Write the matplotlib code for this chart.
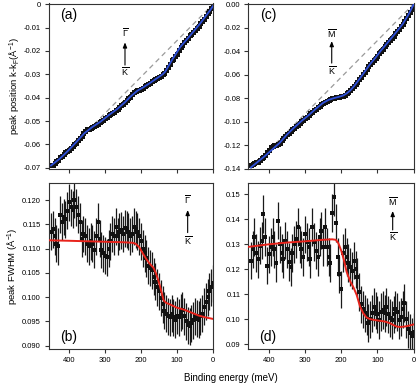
import matplotlib
matplotlib.use("Agg")
import matplotlib.pyplot as plt
from matplotlib.ticker import FuncFormatter, MultipleLocator
import numpy as np

plt.rcParams.update({
    "font.family": "Liberation Sans",
    "font.size": 6,
    "axes.unicode_minus": False,
    "mathtext.fontset": "custom",
    "mathtext.rm": "Liberation Sans",
    "mathtext.it": "Liberation Sans:italic",
    "mathtext.bf": "Liberation Sans:bold",
    "axes.linewidth": 0.8,
    "axes.edgecolor": "#333333",
})

# ---------------------------------------------------------------
# DATOS
# ---------------------------------------------------------------

# energia de enlace de cada punto (meV)
ENERGIA = np.arange(450, -1, -5)

# (a) posicion del pico, G-K
POS_A = [
    -0.0690, -0.0688, -0.0680, -0.0670, -0.0668, -0.0655, -0.0650, -0.0640, -0.0633, -0.0630,
    -0.0622, -0.0615, -0.0608, -0.0598, -0.0592, -0.0580, -0.0573, -0.0562, -0.0552, -0.0543,
    -0.0535, -0.0533, -0.0530, -0.0527, -0.0520, -0.0515, -0.0512, -0.0505, -0.0499, -0.0494,
    -0.0488, -0.0482, -0.0475, -0.0470, -0.0466, -0.0460, -0.0452, -0.0447, -0.0440, -0.0432,
    -0.0425, -0.0420, -0.0411, -0.0403, -0.0395, -0.0385, -0.0377, -0.0371, -0.0368, -0.0366,
    -0.0362, -0.0358, -0.0352, -0.0345, -0.0340, -0.0337, -0.0330, -0.0325, -0.0320, -0.0316,
    -0.0312, -0.0306, -0.0300, -0.0293, -0.0283, -0.0268, -0.0255, -0.0240, -0.0233, -0.0222,
    -0.0211, -0.0198, -0.0182, -0.0175, -0.0163, -0.0155, -0.0145, -0.0133, -0.0128, -0.0120,
    -0.0110, -0.0100, -0.0093, -0.0082, -0.0072, -0.0062, -0.0050, -0.0038, -0.0030, -0.0016,
    -0.0006,
]
ERR_A = 0.0009
AJUSTE_A_E = [450, 425, 404, 380, 358, 335, 312, 290, 266, 245, 229, 210, 193, 175,
              156, 140, 133, 114, 91, 63, 36, 8, 0]
AJUSTE_A = [-0.0690, -0.0660, -0.0629, -0.0590, -0.0553, -0.0525, -0.0502, -0.0475,
            -0.0448, -0.0420, -0.0395, -0.0370, -0.0355, -0.0337, -0.0317, -0.0300,
            -0.0289, -0.0239, -0.0183, -0.0133, -0.0083, -0.0026, -0.0008]
DIAG_A_E = [450, 0]
DIAG_A = [-0.0700, 0.0]

# (c) posicion del pico, M-K
POS_C = [
    -0.1370, -0.1362, -0.1355, -0.1345, -0.1340, -0.1325, -0.1312, -0.1300, -0.1285, -0.1262,
    -0.1240, -0.1215, -0.1205, -0.1200, -0.1200, -0.1190, -0.1178, -0.1160, -0.1140, -0.1125,
    -0.1108, -0.1095, -0.1080, -0.1065, -0.1052, -0.1040, -0.1025, -0.1010, -0.0995, -0.0983,
    -0.0972, -0.0960, -0.0945, -0.0930, -0.0918, -0.0905, -0.0890, -0.0877, -0.0865, -0.0852,
    -0.0842, -0.0833, -0.0825, -0.0818, -0.0810, -0.0803, -0.0798, -0.0793, -0.0790, -0.0788,
    -0.0785, -0.0780, -0.0772, -0.0760, -0.0748, -0.0733, -0.0718, -0.0700, -0.0680, -0.0660,
    -0.0638, -0.0620, -0.0598, -0.0575, -0.0552, -0.0530, -0.0510, -0.0492, -0.0472, -0.0455,
    -0.0440, -0.0412, -0.0395, -0.0378, -0.0360, -0.0340, -0.0322, -0.0302, -0.0285, -0.0268,
    -0.0248, -0.0228, -0.0210, -0.0190, -0.0170, -0.0145, -0.0120, -0.0095, -0.0068, -0.0040,
    -0.0010,
]
ERR_C = 0.0018
AJUSTE_C_E = [450, 430, 410, 390, 370, 350, 330, 310, 290, 270, 250, 235, 220, 205, 195,
              185, 175, 165, 155, 145, 135, 120, 105, 90, 75, 60, 45, 30, 15, 0]
AJUSTE_C = [-0.1390, -0.1340, -0.1290, -0.1235, -0.1180, -0.1110, -0.1050, -0.0995,
            -0.0945, -0.0890, -0.0840, -0.0815, -0.0800, -0.0788, -0.0778, -0.0760,
            -0.0735, -0.0700, -0.0660, -0.0618, -0.0575, -0.0510, -0.0455, -0.0395,
            -0.0340, -0.0285, -0.0228, -0.0170, -0.0095, -0.0005]
DIAG_C_E = [450, 0]
DIAG_C = [-0.1400, 0.0]

# (b) anchura FWHM, G-K
FWHM_B = [
    0.1135, 0.1140, 0.1125, 0.1110, 0.1105, 0.1170, 0.1155, 0.1165, 0.1160, 0.1178,
    0.1195, 0.1185, 0.1180, 0.1200, 0.1185, 0.1170, 0.1155, 0.1120, 0.1130, 0.1125,
    0.1110, 0.1105, 0.1115, 0.1110, 0.1098, 0.1125, 0.1155, 0.1120, 0.1097, 0.1090,
    0.1085, 0.1082, 0.1100, 0.1115, 0.1130, 0.1125, 0.1145, 0.1125, 0.1135, 0.1138,
    0.1130, 0.1142, 0.1140, 0.1135, 0.1125, 0.1130, 0.1145, 0.1140, 0.1135, 0.1125,
    0.1115, 0.1100, 0.1090, 0.1080, 0.1065, 0.1060, 0.1055, 0.1042, 0.1032, 0.1020,
    0.1012, 0.0998, 0.0985, 0.0972, 0.0966, 0.0960, 0.0958, 0.0966, 0.0958, 0.0953,
    0.0962, 0.0958, 0.0968, 0.0973, 0.0960, 0.0950, 0.0942, 0.0940, 0.0946, 0.0952,
    0.0960, 0.0955, 0.0953, 0.0960, 0.0966, 0.0980, 0.0990, 0.1000, 0.1012, 0.1020,
    0.1028,
]
ERR_B = 0.0038
AJUSTE_B_E = [455, 400, 350, 300, 250, 225, 215, 205, 195, 185, 175, 165, 158, 150,
              143, 137, 130, 120, 100, 80, 60, 40, 20, 0]
AJUSTE_B = [0.1117, 0.1116, 0.1115, 0.1114, 0.1113, 0.1112, 0.1110, 0.1103, 0.1090,
            0.1078, 0.1068, 0.1060, 0.1048, 0.1030, 0.1010, 0.0993, 0.0988, 0.0985,
            0.0978, 0.0974, 0.0968, 0.0962, 0.0958, 0.0955]

# (d) anchura FWHM, M-K
FWHM_D = [
    0.1235, 0.1280, 0.1330, 0.1265, 0.1240, 0.1295, 0.1315, 0.1420, 0.1330, 0.1215,
    0.1260, 0.1290, 0.1330, 0.1280, 0.1225, 0.1395, 0.1300, 0.1265, 0.1240, 0.1315,
    0.1280, 0.1230, 0.1210, 0.1265, 0.1300, 0.1320, 0.1370, 0.1300, 0.1280, 0.1250,
    0.1340, 0.1310, 0.1290, 0.1240, 0.1370, 0.1310, 0.1275, 0.1250, 0.1330, 0.1355,
    0.1290, 0.1370, 0.1290, 0.1250, 0.1225, 0.1425, 0.1490, 0.1385, 0.1250, 0.1180,
    0.1120, 0.1265, 0.1290, 0.1250, 0.1225, 0.1210, 0.1195, 0.1235, 0.1200, 0.1170,
    0.1110, 0.1060, 0.1040, 0.1024, 0.1011, 0.0985, 0.1000, 0.1024, 0.1050, 0.1035,
    0.1020, 0.0998, 0.1030, 0.1037, 0.1024, 0.1050, 0.1020, 0.1005, 0.0997, 0.1020,
    0.1040, 0.1030, 0.0998, 0.1010, 0.1040, 0.1065, 0.1000, 0.0960, 0.0945, 0.0932,
    0.0950,
]
ERR_D = 0.0075
AJUSTE_D_E = [455, 400, 350, 300, 250, 225, 215, 208, 200, 193, 185, 175, 166, 157,
              148, 139, 130, 120, 100, 80, 65, 55, 45, 35, 23, 10, 0]
AJUSTE_D = [0.1290, 0.1300, 0.1307, 0.1312, 0.1318, 0.1320, 0.1318, 0.1305, 0.1275,
            0.1240, 0.1190, 0.1152, 0.1128, 0.1097, 0.1052, 0.1025, 0.1008, 0.1001,
            0.0996, 0.0992, 0.0985, 0.0977, 0.0971, 0.0970, 0.0972, 0.0976, 0.0980]

# ---------------------------------------------------------------
# FIGURA
# ---------------------------------------------------------------

W, H = 416, 388
fig = plt.figure(figsize=(W / 100, H / 100), dpi=100)


def caja(x0, y0, x1, y1):
    # rectangulo en pixeles -> fraccion de figura
    return [x0 / W, 1 - y1 / H, (x1 - x0) / W, (y1 - y0) / H]


ax_a = fig.add_axes(caja(48.5, 3.5, 213, 169))
ax_c = fig.add_axes(caja(248.3, 3.5, 413.5, 169))
ax_b = fig.add_axes(caja(48.5, 182.7, 213, 349))
ax_d = fig.add_axes(caja(248.3, 182.7, 413.5, 349))

AZUL = "#2E4FD8"
ROJO = "#E8231B"


def puntos(ax, y, err, ms, cap_color, elw, cap):
    _, caps, _ = ax.errorbar(ENERGIA, y, yerr=err, fmt="s", ms=ms, color="#111111",
                             ecolor="#1A1A1A", elinewidth=elw, capsize=cap,
                             capthick=0.7, mew=0, zorder=2)
    for c in caps:
        c.set_color(cap_color)


def estilo(ax, etiquetas_x):
    ax.set_xlim(457, 0)
    ax.xaxis.set_major_locator(MultipleLocator(100))
    ax.tick_params(direction="out", length=3, width=0.8, labelsize=5.5,
                   color="#333333", pad=2.5)
    if not etiquetas_x:
        ax.tick_params(axis="x", labelbottom=False)


def flecha(ax, x, y_top, y_tip, y_tail, y_bot, arriba):
    ax.text(x, y_top, arriba, transform=ax.transAxes, ha="center", va="center",
            fontsize=6.5)
    ax.annotate("", xy=(x, y_tip), xytext=(x, y_tail), xycoords="axes fraction",
                arrowprops=dict(arrowstyle="-|>,head_length=0.5,head_width=0.2",
                                color="k", lw=0.8, shrinkA=0, shrinkB=0))
    ax.text(x, y_bot, r"$\overline{\mathrm{K}}$", transform=ax.transAxes,
            ha="center", va="center", fontsize=6.5)


# (a)
puntos(ax_a, POS_A, ERR_A, 3.6, "#111111", 1.2, 1.5)
ax_a.plot(DIAG_A_E, DIAG_A, color="#9A9A9A", lw=0.9, dashes=(4, 3), zorder=1)
ax_a.plot(AJUSTE_A_E, AJUSTE_A, color=AZUL, lw=1.3, zorder=3)
ax_a.set_ylim(-0.0705, 0.0003)
ax_a.yaxis.set_major_locator(MultipleLocator(0.01))
ax_a.yaxis.set_major_formatter(FuncFormatter(lambda v, p: "0" if abs(v) < 1e-9 else f"{v:.2f}"))
estilo(ax_a, False)
ax_a.text(0.12, 0.93, "(a)", transform=ax_a.transAxes, ha="center", va="center", fontsize=10)
flecha(ax_a, 0.465, 0.822, 0.765, 0.628, 0.586, r"$\overline{\Gamma}$")

# (c)
puntos(ax_c, POS_C, ERR_C, 3.6, "#111111", 1.2, 1.5)
ax_c.plot(DIAG_C_E, DIAG_C, color="#9A9A9A", lw=0.9, dashes=(4, 3), zorder=1)
ax_c.plot(AJUSTE_C_E, AJUSTE_C, color=AZUL, lw=1.3, zorder=3)
ax_c.set_ylim(-0.1403, 0.0005)
ax_c.yaxis.set_major_locator(MultipleLocator(0.02))
ax_c.yaxis.set_major_formatter(FuncFormatter(lambda v, p: f"{v + 0.0:.2f}" if abs(v) > 1e-9 else "0.00"))
estilo(ax_c, False)
ax_c.text(0.12, 0.93, "(c)", transform=ax_c.transAxes, ha="center", va="center", fontsize=10)
flecha(ax_c, 0.505, 0.82, 0.773, 0.64, 0.594, r"$\overline{\mathrm{M}}$")

# (b)
puntos(ax_b, FWHM_B, ERR_B, 2.4, "#8C8C8C", 0.9, 1.6)
ax_b.plot(AJUSTE_B_E, AJUSTE_B, color=ROJO, lw=1.4, zorder=3)
ax_b.set_ylim(0.0893, 0.12357)
ax_b.yaxis.set_major_locator(MultipleLocator(0.005))
ax_b.yaxis.set_major_formatter(FuncFormatter(lambda v, p: f"{v:.3f}"))
estilo(ax_b, True)
ax_b.text(0.12, 0.074, "(b)", transform=ax_b.transAxes, ha="center", va="center", fontsize=10)
flecha(ax_b, 0.846, 0.896, 0.836, 0.70, 0.655, r"$\overline{\Gamma}$")

# (d)
puntos(ax_d, FWHM_D, ERR_D, 2.4, "#8C8C8C", 0.9, 1.6)
ax_d.plot(AJUSTE_D_E, AJUSTE_D, color=ROJO, lw=1.4, zorder=3)
ax_d.set_ylim(0.0882, 0.1546)
ax_d.yaxis.set_major_locator(MultipleLocator(0.01))
ax_d.yaxis.set_major_formatter(FuncFormatter(lambda v, p: f"{v:.2f}"))
estilo(ax_d, True)
ax_d.text(0.12, 0.074, "(d)", transform=ax_d.transAxes, ha="center", va="center", fontsize=10)
flecha(ax_d, 0.874, 0.886, 0.83, 0.716, 0.675, r"$\overline{\mathrm{M}}$")

# etiquetas de ejes
fig.text(15 / W, 1 - 86 / H, r"peak position k-k$_\mathrm{F}$(Å$^{-1}$)", rotation=90,
         ha="center", va="center", fontsize=6.8)
fig.text(13 / W, 1 - 266 / H, r"peak FWHM (Å$^{-1}$)", rotation=90,
         ha="center", va="center", fontsize=6.8)
fig.text(231 / W, 1 - 378 / H, "Binding energy (meV)", ha="center", va="center",
         fontsize=7)

fig.savefig("out.png", dpi=100)
